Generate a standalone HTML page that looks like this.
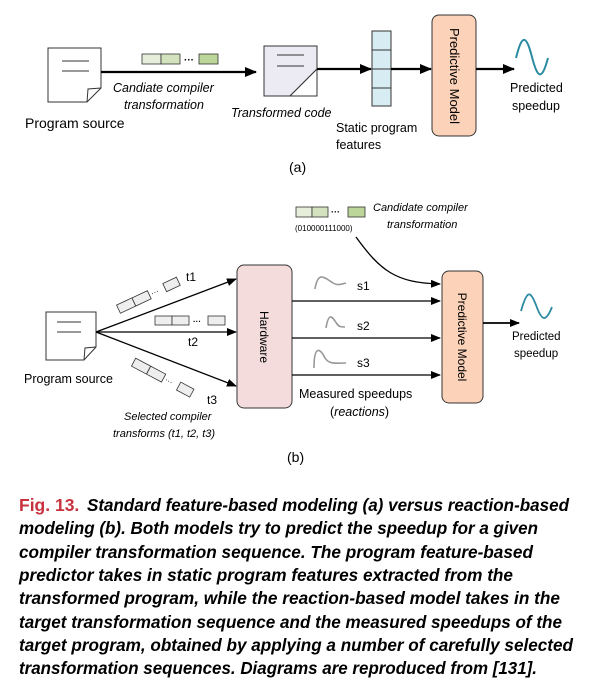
<!DOCTYPE html>
<html><head><meta charset="utf-8"><style>
html,body{margin:0;padding:0;background:#fff;}
svg{display:block;}
text{font-family:"Liberation Sans",sans-serif;}
</style></head><body>
<svg width="602" height="688" viewBox="0 0 602 688" xmlns="http://www.w3.org/2000/svg">
<defs>
<marker id="ah" markerWidth="10" markerHeight="8" refX="9" refY="4" orient="auto" markerUnits="userSpaceOnUse"><path d="M0,0 L10,4 L0,8 z" fill="#000"/></marker>
<marker id="ah2" markerWidth="12" markerHeight="10" refX="11" refY="5" orient="auto" markerUnits="userSpaceOnUse"><path d="M0,0 L12,5 L0,10 z" fill="#000"/></marker>
</defs>
<!-- (a) -->
<path d="M48,48 H101 V88 L87,102 H48 Z" fill="#fff" stroke="#333" stroke-width="1"/>
<path d="M87,102 L88,89 L101,88" fill="none" stroke="#333"/>
<line x1="62" y1="61" x2="89" y2="61" stroke="#333"/><line x1="62" y1="71" x2="89" y2="71" stroke="#333"/>
<line x1="101" y1="72" x2="256" y2="72" stroke="#000" stroke-width="2.2" marker-end="url(#ah2)"/>
<rect x="142" y="54" width="19" height="10" fill="#e6eedb" stroke="#333" stroke-width="0.8"/>
<rect x="161" y="54" width="19" height="10" fill="#d3e3bd" stroke="#333" stroke-width="0.8"/>
<text x="184" y="63" font-size="10" font-weight="bold">···</text>
<rect x="199" y="54" width="19" height="10" fill="#bcd69a" stroke="#333" stroke-width="0.8"/>
<text x="113" y="92" font-size="12.5" font-style="italic">Candiate compiler</text>
<text x="124" y="109" font-size="12.5" font-style="italic">transformation</text>
<text x="25" y="128" font-size="14">Program source</text>
<path d="M264,46 H317 V69 L290,96 H264 Z" fill="#ecebf3" stroke="#333"/>
<path d="M290,96 L317,69 V96 Z" fill="#fff" stroke="#333"/>
<line x1="277" y1="55" x2="304" y2="55" stroke="#333"/><line x1="277" y1="66" x2="304" y2="66" stroke="#333"/>
<text x="231" y="117" font-size="12.5" font-style="italic">Transformed code</text>
<line x1="317" y1="69" x2="371" y2="69" stroke="#000" stroke-width="2.2" marker-end="url(#ah2)"/>
<rect x="372" y="31" width="19" height="75" fill="#d7edf3" stroke="#333"/>
<line x1="372" y1="50" x2="391" y2="50" stroke="#333"/><line x1="372" y1="69" x2="391" y2="69" stroke="#333"/><line x1="372" y1="88" x2="391" y2="88" stroke="#333"/>
<line x1="391" y1="69" x2="431" y2="69" stroke="#000" stroke-width="2.2" marker-end="url(#ah2)"/>
<text x="336" y="132" font-size="12.5">Static program</text>
<text x="336" y="149" font-size="12.5">features</text>
<rect x="432" y="15" width="44" height="121" rx="7" fill="#fcd2b8" stroke="#333"/>
<text x="454" y="76" font-size="13" transform="rotate(90 454 76)" text-anchor="middle" dy="4">Predictive Model</text>
<line x1="476" y1="69" x2="514" y2="69" stroke="#000" stroke-width="2.2" marker-end="url(#ah2)"/>
<path d="M516,58 C522,34 526,34 532,57 C538,80 542,80 548,58" fill="none" stroke="#2a8aa0" stroke-width="2"/>
<text x="510" y="92" font-size="12.5">Predicted</text>
<text x="512" y="110" font-size="12.5">speedup</text>
<text x="289" y="172" font-size="14" font-family="Liberation Serif">(a)</text>
<!-- (b) -->
<rect x="296" y="207" width="16" height="10" fill="#e6eedb" stroke="#333" stroke-width="0.8"/>
<rect x="312" y="207" width="16" height="10" fill="#d3e3bd" stroke="#333" stroke-width="0.8"/>
<text x="331" y="215" font-size="9" font-weight="bold">···</text>
<rect x="348" y="207" width="17" height="10" fill="#bcd69a" stroke="#333" stroke-width="0.8"/>
<text x="295" y="231" font-size="8">(010000111000)</text>
<text x="373" y="211" font-size="11" font-style="italic">Candidate compiler</text>
<text x="387" y="228" font-size="11" font-style="italic">transformation</text>
<path d="M356,237 C380,270 395,283 440,284" fill="none" stroke="#000" stroke-width="1.3" marker-end="url(#ah)"/>
<path d="M46,312 H96 V347 L84,360 H46 Z" fill="#fff" stroke="#333"/>
<path d="M84,360 L85,348 L96,347" fill="none" stroke="#333"/>
<line x1="57" y1="322" x2="81" y2="322" stroke="#333"/><line x1="57" y1="332" x2="81" y2="332" stroke="#333"/>
<text x="24" y="383" font-size="12.5">Program source</text>
<line x1="96" y1="332" x2="236" y2="279" stroke="#000" stroke-width="1.3" marker-end="url(#ah)"/>
<line x1="96" y1="332" x2="236" y2="332" stroke="#000" stroke-width="1.3" marker-end="url(#ah)"/>
<line x1="96" y1="332" x2="236" y2="386" stroke="#000" stroke-width="1.3" marker-end="url(#ah)"/>
<g transform="rotate(-25 135 302)" fill="#eee" stroke="#333" stroke-width="0.8">
<rect x="117" y="297" width="17" height="9"/><rect x="134" y="297" width="17" height="9"/><rect x="168" y="297" width="15" height="9"/>
<text x="153" y="304" font-size="8" stroke="none" fill="#000">···</text></g>
<text x="186" y="281" font-size="12">t1</text>
<rect x="155" y="316" width="17" height="9" fill="#eee" stroke="#333" stroke-width="0.8"/>
<rect x="172" y="316" width="17" height="9" fill="#eee" stroke="#333" stroke-width="0.8"/>
<text x="193" y="324" font-size="8" font-weight="bold">···</text>
<rect x="208" y="316" width="17" height="9" fill="#eee" stroke="#333" stroke-width="0.8"/>
<text x="188" y="346" font-size="12">t2</text>
<g transform="rotate(28 140 365)" fill="#eee" stroke="#333" stroke-width="0.8">
<rect x="133" y="361" width="17" height="9"/><rect x="150" y="361" width="17" height="9"/><rect x="184" y="361" width="15" height="9"/>
<text x="169" y="368" font-size="8" stroke="none" fill="#000">···</text></g>
<text x="207" y="404" font-size="12">t3</text>
<text x="124" y="420" font-size="11" font-style="italic">Selected compiler</text>
<text x="113" y="437" font-size="11" font-style="italic">transforms (t1, t2, t3)</text>
<rect x="237" y="265" width="55" height="143" rx="7" fill="#f4dcdc" stroke="#333"/>
<text x="264" y="337" font-size="12" transform="rotate(90 264 337)" text-anchor="middle" dy="4">Hardware</text>
<line x1="292" y1="301" x2="440" y2="301" stroke="#000" stroke-width="1.3" marker-end="url(#ah)"/>
<line x1="292" y1="338" x2="440" y2="338" stroke="#000" stroke-width="1.3" marker-end="url(#ah)"/>
<line x1="292" y1="375" x2="440" y2="375" stroke="#000" stroke-width="1.3" marker-end="url(#ah)"/>
<path d="M315,289 C318,270 325,278 333,283 C338,286 342,284 346,283" fill="none" stroke="#999" stroke-width="1.6"/>
<path d="M326,328 C329,310 333,318 337,324 C339,327 342,327 345,327" fill="none" stroke="#999" stroke-width="1.6"/>
<path d="M314,368 C314,345 320,348 325,358 C329,365 338,363 346,363" fill="none" stroke="#999" stroke-width="1.6"/>
<text x="357" y="290" font-size="12">s1</text>
<text x="357" y="330" font-size="12">s2</text>
<text x="357" y="367" font-size="12">s3</text>
<text x="299" y="398" font-size="12.5">Measured speedups</text>
<text x="330" y="416" font-size="12.5">(<tspan font-style="italic">reactions</tspan>)</text>
<rect x="442" y="271" width="41" height="132" rx="7" fill="#fcd2b8" stroke="#333"/>
<text x="462" y="337" font-size="12" transform="rotate(90 462 337)" text-anchor="middle" dy="4">Predictive Model</text>
<line x1="483" y1="323" x2="519" y2="323" stroke="#000" stroke-width="1.8" marker-end="url(#ah)"/>
<path d="M521,311 C527,290 530,290 536,305 C542,322 546,322 552,307" fill="none" stroke="#2a8aa0" stroke-width="1.8"/>
<text x="512" y="340" font-size="11.5">Predicted</text>
<text x="514" y="357" font-size="11.5">speedup</text>
<text x="287" y="462" font-size="14" font-family="Liberation Serif">(b)</text>
<!-- caption -->
<g font-size="17.5" font-weight="bold" font-style="italic">
<text x="19" y="511"><tspan fill="#c8323f" font-style="normal">Fig. 13.</tspan></text>
<text x="87" y="511" textLength="482" lengthAdjust="spacingAndGlyphs">Standard feature-based modeling (a) versus reaction-based</text>
<text x="19" y="534" textLength="519" lengthAdjust="spacingAndGlyphs">modeling (b). Both models try to predict the speedup for a given</text>
<text x="19" y="558" textLength="514" lengthAdjust="spacingAndGlyphs">compiler transformation sequence. The program feature-based</text>
<text x="19" y="581" textLength="494" lengthAdjust="spacingAndGlyphs">predictor takes in static program features extracted from the</text>
<text x="19" y="604" textLength="541" lengthAdjust="spacingAndGlyphs">transformed program, while the reaction-based model takes in the</text>
<text x="19" y="628" textLength="543" lengthAdjust="spacingAndGlyphs">target transformation sequence and the measured speedups of the</text>
<text x="19" y="651" textLength="554" lengthAdjust="spacingAndGlyphs">target program, obtained by applying a number of carefully selected</text>
<text x="19" y="674" textLength="518" lengthAdjust="spacingAndGlyphs">transformation sequences. Diagrams are reproduced from [131].</text>
</g>
</svg>
</body></html>
